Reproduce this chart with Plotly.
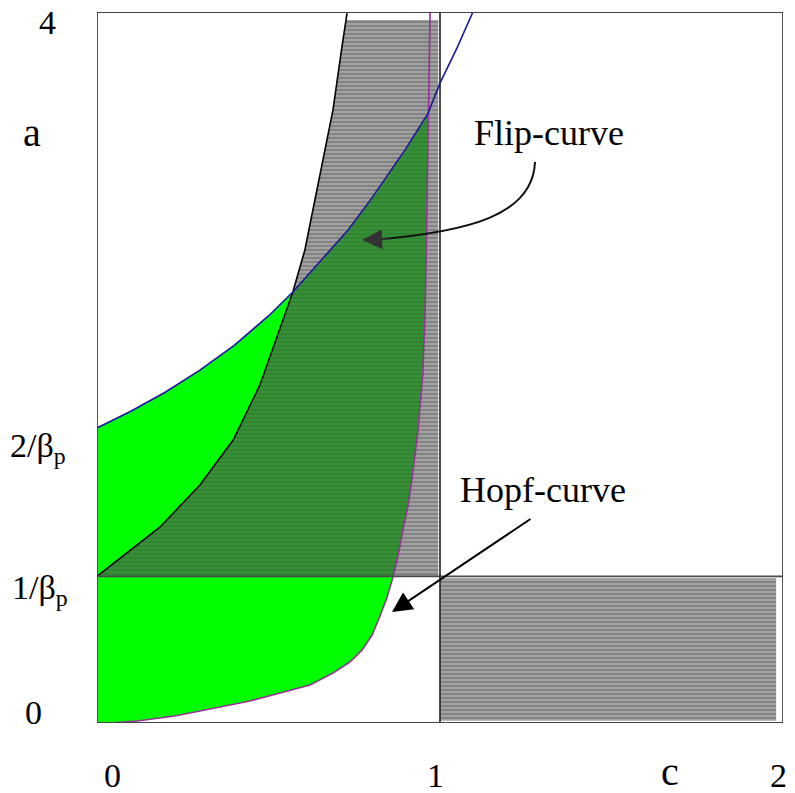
import numpy as np
import plotly.graph_objects as go

# ---- data ----
inv_beta = 0.825          # a = 1/beta_p
a_top = 4.0
hatch_top = 3.955
c_max = 2.0

# Flip curve (blue)
flip_c = [0.0, 0.1, 0.2, 0.3, 0.4, 0.5, 0.571, 0.679, 0.732, 0.8, 0.9, 0.965, 1.0, 1.05, 1.096]
flip_a = [1.66, 1.755, 1.862, 1.985, 2.125, 2.29, 2.425, 2.661, 2.774, 2.95, 3.23, 3.43, 3.60, 3.80, 4.0]

# Hopf curve (magenta), listed from bottom to top
hopf_c = [0.038, 0.117, 0.227, 0.338, 0.446, 0.534, 0.621, 0.688, 0.737, 0.773, 0.802,
          0.825, 0.845, 0.863, 0.878, 0.892, 0.907, 0.918, 0.936, 0.950, 0.956, 0.959,
          0.962, 0.965, 0.968, 0.971]
hopf_a = [0.0, 0.011, 0.039, 0.084, 0.124, 0.169, 0.214, 0.281, 0.343, 0.411, 0.495,
          0.602, 0.703, 0.821, 0.945, 1.086, 1.226, 1.367, 1.648, 1.969, 2.267, 2.548,
          2.942, 3.43, 3.730, 3.994]

# Left boundary of the hatched region (black)
bound_c = [0.0, 0.0875, 0.184, 0.300, 0.397, 0.475, 0.571, 0.606, 0.659, 0.688, 0.714, 0.729]
bound_a = [0.825, 0.956, 1.103, 1.339, 1.592, 1.902, 2.425, 2.661, 3.167, 3.449, 3.803, 3.994]

# hatched rectangle to the right of c = 1
rect_c = [1.0, 1.98]
rect_a = [0.012, 0.815]

flip_c, flip_a = np.array(flip_c), np.array(flip_a)
hopf_c, hopf_a = np.array(hopf_c), np.array(hopf_a)
bound_c, bound_a = np.array(bound_c), np.array(bound_a)

# crossing points (included in the arrays above)
cross_fh = (0.965, 3.43)    # flip / hopf
cross_fb = (0.571, 2.425)   # flip / boundary

GREY_BG, GREY_FG = "#a2a2a2", "#505050"
DG_BG, DG_FG = "#2f962f", "#4a5a4a"
PAT = dict(shape="-", size=4, solidity=0.38)

fig = go.Figure()

# --- bright green region ---
m_h = hopf_a <= cross_fh[1] + 1e-9
m_f = flip_c <= cross_fh[0] + 1e-9
gx = [0.0] + list(hopf_c[m_h]) + list(flip_c[m_f][::-1]) + [0.0]
gy = [0.0] + list(hopf_a[m_h]) + list(flip_a[m_f][::-1]) + [0.0]
fig.add_trace(go.Scatter(x=gx, y=gy, fill="toself", fillcolor="#00ff00",
                         line=dict(width=0), mode="lines", hoverinfo="skip"))

# --- grey hatched region above 1/beta ---
c_ht = float(np.interp(hatch_top, bound_a, bound_c))
mb = bound_a <= hatch_top
hx = list(bound_c[mb]) + [c_ht, 0.995, 0.995, 0.0]
hy = list(bound_a[mb]) + [hatch_top, hatch_top, inv_beta, inv_beta]
fig.add_trace(go.Scatter(x=hx, y=hy, fill="toself", fillcolor=GREY_BG,
                         fillpattern=dict(bgcolor=GREY_BG, fgcolor=GREY_FG, **PAT),
                         line=dict(width=0), mode="lines", hoverinfo="skip"))

# --- grey hatched rectangle to the right ---
fig.add_trace(go.Scatter(x=[rect_c[0], rect_c[1], rect_c[1], rect_c[0], rect_c[0]],
                         y=[rect_a[0], rect_a[0], rect_a[1], rect_a[1], rect_a[0]],
                         fill="toself", fillcolor=GREY_BG,
                         fillpattern=dict(bgcolor=GREY_BG, fgcolor=GREY_FG, **PAT),
                         line=dict(width=0), mode="lines", hoverinfo="skip"))

# --- overlap (dark green hatched) ---
mb2 = bound_a <= cross_fb[1] + 1e-9
mf2 = (flip_c >= cross_fb[0] - 1e-9) & (flip_c <= cross_fh[0] + 1e-9)
mh2 = (hopf_a >= inv_beta - 1e-9) & (hopf_a <= cross_fh[1] + 1e-9)
c_hb = float(np.interp(inv_beta, hopf_a, hopf_c))
ox = list(bound_c[mb2]) + list(flip_c[mf2]) + list(hopf_c[mh2][::-1]) + [c_hb, 0.0]
oy = list(bound_a[mb2]) + list(flip_a[mf2]) + list(hopf_a[mh2][::-1]) + [inv_beta, inv_beta]
fig.add_trace(go.Scatter(x=ox, y=oy, fill="toself", fillcolor=DG_BG,
                         fillpattern=dict(bgcolor=DG_BG, fgcolor=DG_FG, **PAT),
                         line=dict(width=0), mode="lines", hoverinfo="skip"))

# --- curves ---
fig.add_trace(go.Scatter(x=bound_c, y=bound_a, mode="lines",
                         line=dict(color="#000000", width=1.6), hoverinfo="skip"))
fig.add_trace(go.Scatter(x=hopf_c, y=hopf_a, mode="lines",
                         line=dict(color="#9a2f9a", width=1.6), hoverinfo="skip"))
fig.add_trace(go.Scatter(x=flip_c, y=flip_a, mode="lines",
                         line=dict(color="#1a1a9a", width=1.6), hoverinfo="skip"))

shapes = [
    dict(type="line", xref="x", yref="y", x0=0, x1=c_max, y0=inv_beta, y1=inv_beta,
         line=dict(color="#4a4a4a", width=1.6)),
    dict(type="line", xref="x", yref="y", x0=1, x1=1, y0=0, y1=a_top,
         line=dict(color="#222222", width=1.6)),
    dict(type="rect", xref="x", yref="y", x0=0, x1=c_max, y0=0, y1=a_top,
         line=dict(color="#444444", width=1.8)),
    # curved arrow body for the flip label
    dict(type="path", xref="x", yref="y",
         path="M 1.277,3.156 C 1.271,2.858 1.087,2.762 0.80,2.717",
         line=dict(color="#111111", width=2)),
]

FONT = "Liberation Serif, Times New Roman, serif"


def px2x(px):
    return (px - 97) / 686.0


def px2y(py):
    return (723 - py) / 711.0


anns = []
# axis labels
for txt, px, py, size in [("4", 47, 22, 34), ("a", 32, 132, 40), ("2/β<sub>p</sub>", 38, 448, 34),
                          ("1/β<sub>p</sub>", 40, 590, 34), ("0", 33, 712, 34),
                          ("0", 112, 775, 34), ("1", 435, 775, 34), ("c", 670, 772, 40),
                          ("2", 778, 775, 34)]:
    anns.append(dict(text=txt, xref="paper", yref="paper", x=px2x(px), y=px2y(py),
                     xanchor="center", yanchor="middle", showarrow=False,
                     font=dict(family=FONT, size=size, color="#000000")))
# annotation texts
anns.append(dict(text="Flip-curve", xref="paper", yref="paper", x=px2x(549), y=px2y(133),
                 xanchor="center", yanchor="middle", showarrow=False,
                 font=dict(family=FONT, size=36, color="#000000")))
anns.append(dict(text="Hopf-curve", xref="paper", yref="paper", x=px2x(543), y=px2y(490),
                 xanchor="center", yanchor="middle", showarrow=False,
                 font=dict(family=FONT, size=36, color="#000000")))
# arrowheads
anns.append(dict(text="", xref="x", yref="y", x=0.773, y=2.717, ax=28, ay=-1,
                 axref="pixel", ayref="pixel", showarrow=True, arrowhead=2,
                 arrowsize=2.0, arrowwidth=2, arrowcolor="#333333"))
anns.append(dict(text="", xref="x", yref="y", x=0.860, y=0.6245, ax=140, ay=-94,
                 showarrow=True, arrowhead=2, arrowsize=2.0, arrowwidth=2,
                 arrowcolor="#000000"))

fig.update_layout(
    width=795, height=793,
    margin=dict(l=97, r=12, t=12, b=70),
    paper_bgcolor="white", plot_bgcolor="white",
    showlegend=False,
    xaxis=dict(range=[0, c_max], showgrid=False, zeroline=False, showticklabels=False,
               showline=False, fixedrange=True),
    yaxis=dict(range=[0, a_top], showgrid=False, zeroline=False, showticklabels=False,
               showline=False, fixedrange=True),
    shapes=shapes,
    annotations=anns,
)

fig.write_html("out.html", include_plotlyjs=True, config={"displayModeBar": False})
